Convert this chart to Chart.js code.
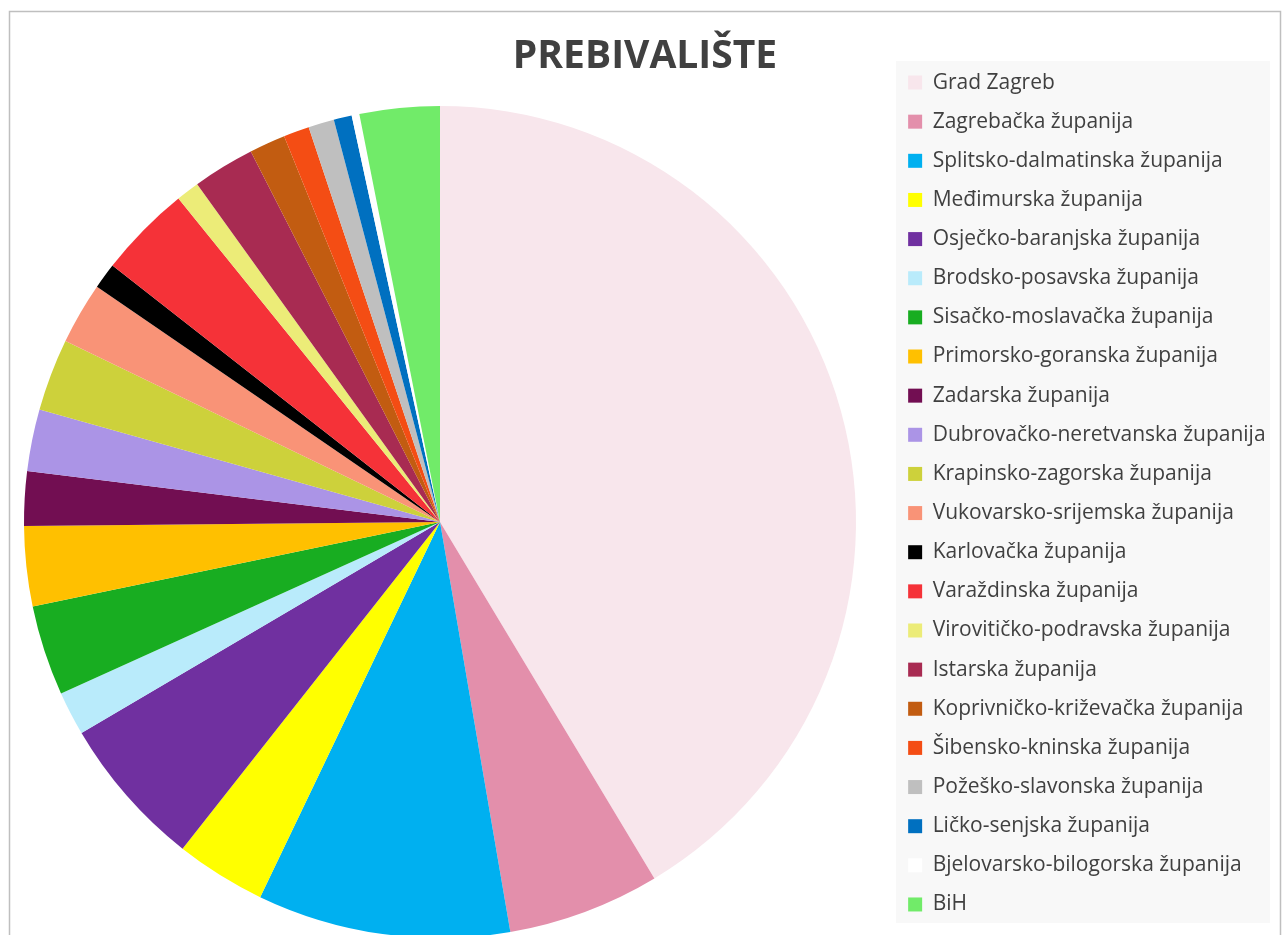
<!DOCTYPE html>
<html lang="hr">
<head>
<meta charset="utf-8">
<title>Prebivalište</title>
<script src="https://cdn.jsdelivr.net/npm/chart.js@4.4.1/dist/chart.umd.min.js"></script>
<style>
  html, body { margin: 0; padding: 0; background: #ffffff; overflow: hidden; }
  canvas { display: block; position: absolute; left: -10px; top: 0; }
</style>
</head>
<body>
<canvas id="prebivalisteChart" width="1293" height="987"></canvas>
<script>
const zupanije = [
  'Grad Zagreb',
  'Zagrebačka županija',
  'Splitsko-dalmatinska županija',
  'Međimurska županija',
  'Osječko-baranjska županija',
  'Brodsko-posavska županija',
  'Sisačko-moslavačka županija',
  'Primorsko-goranska županija',
  'Zadarska županija',
  'Dubrovačko-neretvanska županija',
  'Krapinsko-zagorska županija',
  'Vukovarsko-srijemska županija',
  'Karlovačka županija',
  'Varaždinska županija',
  'Virovitičko-podravska županija',
  'Istarska županija',
  'Koprivničko-križevačka županija',
  'Šibensko-kninska županija',
  'Požeško-slavonska županija',
  'Ličko-senjska županija',
  'Bjelovarsko-bilogorska županija',
  'BiH'
];

// udio (%) procijenjen sa slike
const udjeli = [
  41.3, 5.9, 9.8, 3.5, 5.9, 1.7, 3.5, 3.1, 2.1, 2.4, 2.8,
  2.4, 1.0, 3.6, 0.9, 2.4, 1.4, 1.0, 1.0, 0.7, 0.3, 3.1
];

const boje = [
  '#f8e6ec', '#e38fab', '#00b0f0', '#ffff00', '#7030a0', '#b9ebfb',
  '#18ad21', '#ffc000', '#720e52', '#ab94e6', '#cdd13b', '#f99377',
  '#000000', '#f53238', '#ecec78', '#a82b52', '#c25c11', '#f44d14',
  '#bfbfbf', '#0070c0', '#ffffff', '#71eb69'
];

const naslov = 'PREBIVALIŠTE';

// canvas je pomaknut 10px ulijevo (vidi CSS)
const pomak = 10;

// okvir, siva podloga legende i fiksna širina legende
const pozadina = {
  id: 'pozadina',
  beforeInit(chart) {
    const fit = chart.legend.fit;
    chart.legend.fit = function () {
      fit.call(this);
      this.width = 410;
    };
  },
  beforeDraw(chart) {
    const ctx = chart.ctx;
    ctx.save();
    ctx.fillStyle = '#ffffff';
    ctx.fillRect(0, 0, chart.width, chart.height);
    ctx.strokeStyle = '#bfbfbf';
    ctx.lineWidth = 1.5;
    ctx.strokeRect(9.5 + pomak, 11.5, 1271, 1000);
    ctx.fillStyle = '#f8f8f8';
    ctx.fillRect(896 + pomak, 61, 374, 862);
    ctx.restore();
  }
};

const ctx = document.getElementById('prebivalisteChart').getContext('2d');

new Chart(ctx, {
  type: 'pie',
  data: {
    labels: zupanije,
    datasets: [{
      data: udjeli,
      backgroundColor: boje,
      borderWidth: 0
    }]
  },
  options: {
    responsive: false,
    animation: false,
    radius: 416,
    layout: {
      padding: { left: 0, right: -17, top: 0, bottom: 0 }
    },
    plugins: {
      title: {
        display: true,
        text: naslov,
        color: '#404040',
        font: { family: 'Open Sans', size: 39, weight: 'bold', lineHeight: 1.2 },
        padding: { top: 33, bottom: -22.8 }
      },
      legend: {
        position: 'right',
        align: 'center',
        labels: {
          color: '#404040',
          font: { family: 'Open Sans', size: 21 },
          boxWidth: 14,
          boxHeight: 14,
          padding: 18.14
        }
      },
      tooltip: { enabled: false }
    }
  },
  plugins: [pozadina]
});
</script>
</body>
</html>
